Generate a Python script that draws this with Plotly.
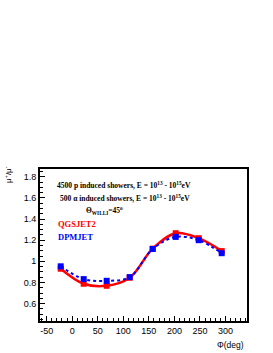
import plotly.graph_objects as go

phi = [-22.5, 22.5, 67.5, 112.5, 157.5, 202.5, 247.5, 292.5]
qgsjet2 = [0.93, 0.788, 0.769, 0.845, 1.12, 1.266, 1.219, 1.097]
dpmjet = [0.953, 0.832, 0.816, 0.851, 1.117, 1.231, 1.200, 1.077]
x_ticks = [-50, 0, 50, 100, 150, 200, 250, 300]
x_tick_text = ["-50", "0", "50", "100", "150", "200", "250", "300"]
y_ticks = [0.6, 0.8, 1.0, 1.2, 1.4, 1.6, 1.8]
y_tick_text = ["0.6", "0.8", "1", "1.2", "1.4", "1.6", "1.8"]

fig = go.Figure()
fig.add_trace(go.Scatter(x=phi, y=qgsjet2, mode="lines+markers",
                         line=dict(color="#ff0000", width=2.5, shape="spline"),
                         marker=dict(symbol="square", size=6, color="#ff0000"),
                         name="QGSJET2"))
fig.add_trace(go.Scatter(x=phi, y=dpmjet, mode="lines+markers",
                         line=dict(color="#0000ff", width=2, dash="dot", shape="spline"),
                         marker=dict(symbol="square", size=6, color="#0000ff"),
                         name="DPMJET"))

axis_common = dict(showgrid=False, zeroline=False, showline=True, linecolor="black",
                   linewidth=2, mirror=True, ticks="inside", ticklen=5, tickcolor="black",
                   tickfont=dict(family="Liberation Sans", size=9, color="black"))
fig.update_xaxes(range=[-63, 342], tickvals=x_ticks, ticktext=x_tick_text,
                 minor=dict(ticks="inside", ticklen=3, dtick=10, tickcolor="black"),
                 **axis_common)
fig.update_yaxes(range=[0.436, 1.873], tickvals=y_ticks, ticktext=y_tick_text,
                 minor=dict(ticks="inside", ticklen=3, dtick=0.05, tickcolor="black"),
                 **axis_common)

serif = dict(family="Liberation Serif", size=7.5, color="black")
ann = [
    dict(x=124, y=185, text="<b>4500 p induced showers, E = 10<sup>13</sup> - 10<sup>15</sup>eV</b>"),
    dict(x=125, y=198, text="<b>500 α induced showers, E = 10<sup>13</sup> - 10<sup>15</sup>eV</b>"),
    dict(x=104, y=210, text="<b>Θ<sub>WILLI</sub>=45<sup>o</sup></b>"),
]
for a in ann:
    fig.add_annotation(x=a["x"], y=a["y"], xref="paper", yref="paper", text=a["text"],
                       showarrow=False, font=serif, xanchor="center", yanchor="middle")

fig.add_annotation(x=56, y=224, xref="paper", yref="paper", text="<b>QGSJET2</b>", showarrow=False,
                   font=dict(family="Liberation Serif", size=8.5, color="#ff0000"), xanchor="left", yanchor="middle")
fig.add_annotation(x=56, y=237, xref="paper", yref="paper", text="<b>DPMJET</b>", showarrow=False,
                   font=dict(family="Liberation Serif", size=8.5, color="#0000ff"), xanchor="left", yanchor="middle")
fig.add_annotation(x=8, y=175, xref="paper", yref="paper", text="μ<sup>+</sup>/μ<sup>-</sup>", showarrow=False,
                   textangle=-90, font=dict(family="Liberation Sans", size=8, color="black"),
                   xanchor="center", yanchor="middle")
fig.add_annotation(x=246, y=345, xref="paper", yref="paper", text="Φ(deg)", showarrow=False,
                   font=dict(family="Liberation Sans", size=8.5, color="black"),
                   xanchor="right", yanchor="middle")

# convert pixel positions in annotations to paper coords
W, H = 273, 353
ml, mr, mt, mb = 40, 26, 169, 32
pw, ph = W - ml - mr, H - mt - mb
for a in fig.layout.annotations:
    px, py = a.x, a.y
    a.x = (px - ml) / pw
    a.y = (H - mb - py) / ph

fig.update_layout(width=W, height=H, margin=dict(l=ml, r=mr, t=mt, b=mb),
                  plot_bgcolor="white", paper_bgcolor="white", showlegend=False,
                  hovermode=False)
fig.write_html("out.html", config={"displayModeBar": False, "staticPlot": True},
               post_script="document.body.style.margin='0';document.body.style.overflow='hidden';")
